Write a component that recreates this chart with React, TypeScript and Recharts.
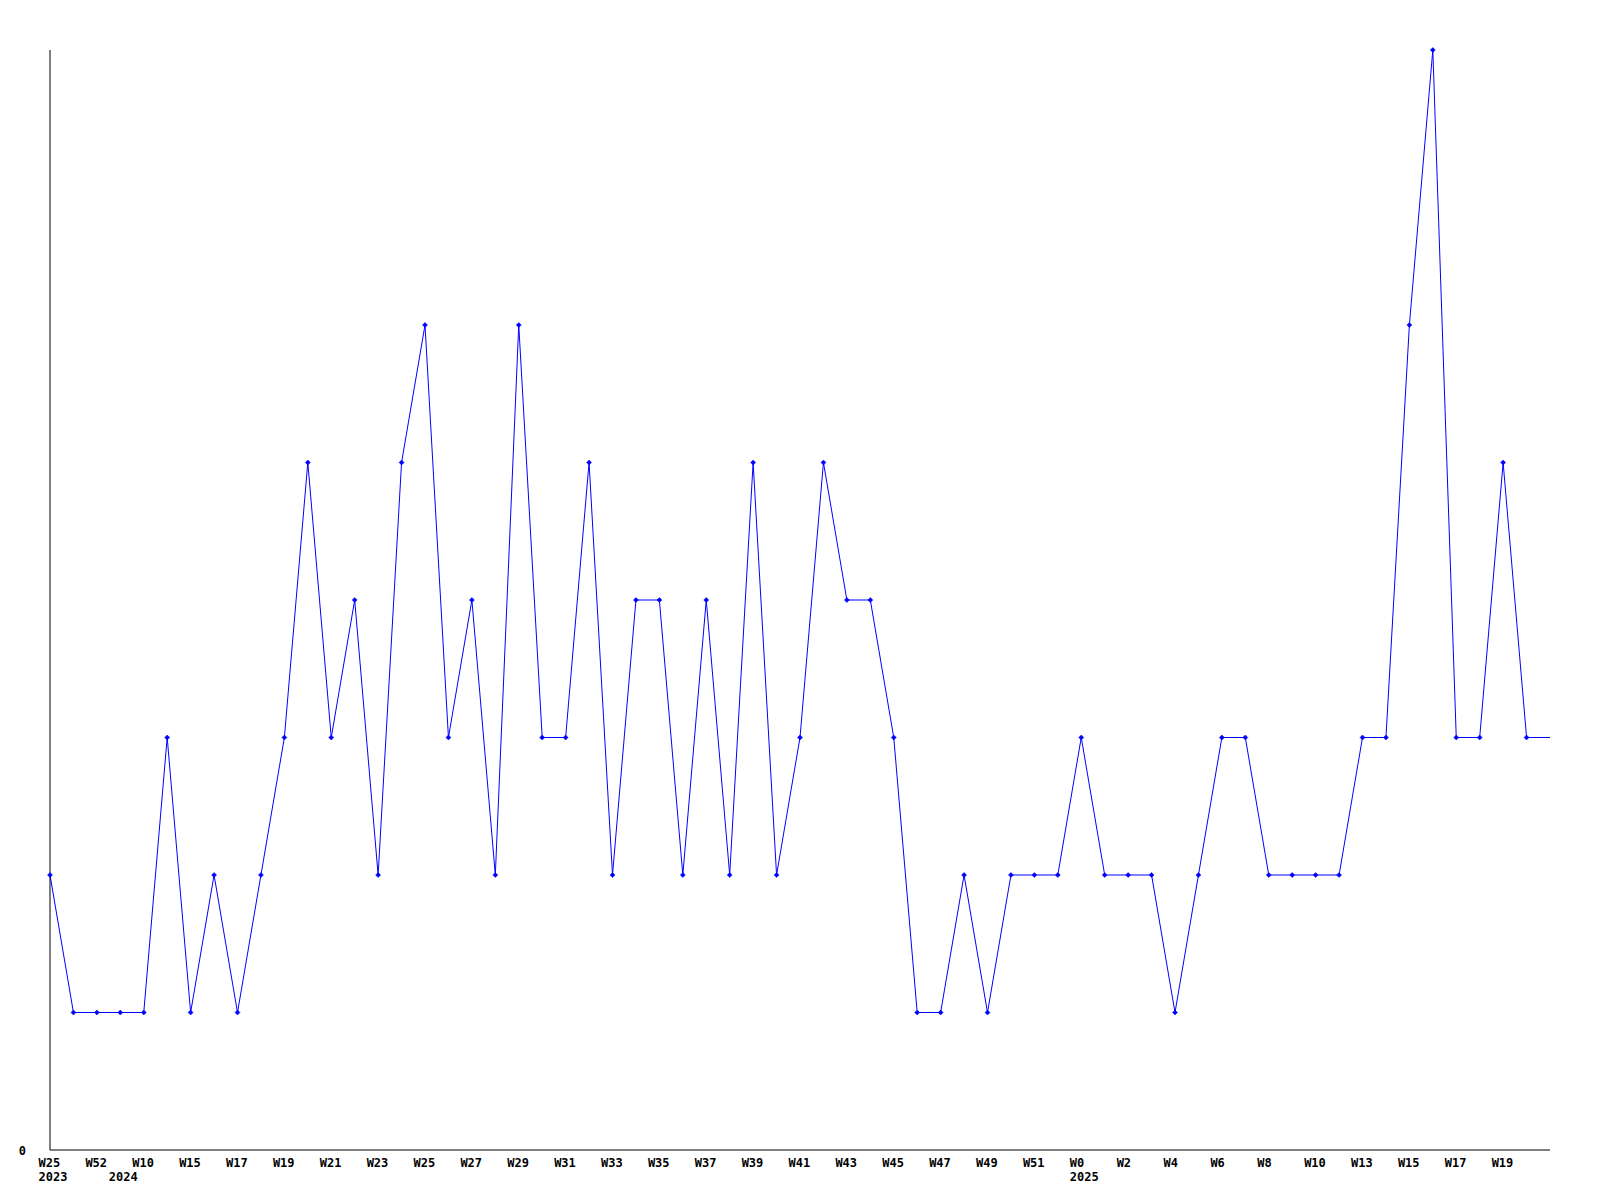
import { CartesianGrid, Line, LineChart, XAxis, YAxis } from 'recharts';

// weekly counts, last entry is the running (partial) week drawn without a marker
const counts = [
  2, 1, 1, 1, 1, 3, 1, 2, 1, 2, 3, 5, 3, 4, 2, 5, 6, 3, 4, 2, 6, 3, 3, 5, 2, 4, 4, 2, 4, 2, 5, 2,
  3, 5, 4, 4, 3, 1, 1, 2, 1, 2, 2, 2, 3, 2, 2, 2, 1, 2, 3, 3, 2, 2, 2, 2, 3, 3, 6, 8, 3, 3, 5, 3, 3
];

// tick labels on every other week
const weekLabels = [
  'W25', 'W52', 'W10', 'W15', 'W17', 'W19', 'W21', 'W23', 'W25', 'W27', 'W29', 'W31', 'W33', 'W35', 'W37', 'W39',
  'W41', 'W43', 'W45', 'W47', 'W49', 'W51', 'W0', 'W2', 'W4', 'W6', 'W8', 'W10', 'W13', 'W15', 'W17', 'W19'
];
const yearLabels: Record<number, string> = { 0: '2023', 3: '2024', 44: '2025' };

const data = counts.map((count, i) => ({
  idx: i,
  week: i % 2 === 0 ? weekLabels[i / 2] ?? '' : '',
  year: yearLabels[i] ?? '',
  count
}));

const font = '"DejaVu Sans Mono", monospace';

// labels start a little left of their tick
function WeekTick({ x, y, payload }: any) {
  const row = data[payload.index];
  if (!row) return null;
  return (
    <g>
      <text x={x - 11.5} y={y + 16.5} textAnchor="start" fontFamily={font} fontWeight="bold" fontSize={12} fill="#000">
        {row.week}
      </text>
      {row.year && (
        <text x={x - 11.5} y={y + 30.5} textAnchor="start" fontFamily={font} fontWeight="bold" fontSize={12} fill="#000">
          {row.year}
        </text>
      )}
    </g>
  );
}

function ZeroTick({ y, payload }: any) {
  return (
    <text x={26} y={y + 5} textAnchor="end" fontFamily={font} fontWeight="bold" fontSize={12} fill="#000">
      {payload.value}
    </text>
  );
}

function Marker({ cx, cy, index }: any) {
  if (index === counts.length - 1) return null;
  return (
    <path
      key={index}
      d={`M${cx - 2.5},${cy} L${cx},${cy - 2.5} L${cx + 2.5},${cy} L${cx},${cy + 2.5} Z`}
      fill="#0000ff"
      stroke="#0000ff"
      strokeWidth={0.5}
    />
  );
}

export default function App() {
  return (
    <div style={{ width: 1600, height: 1200, background: '#fff' }}>
      <style>{'body{margin:0}'}</style>
      <LineChart width={1600} height={1200} data={data} margin={{ top: 50, right: 50, bottom: 0, left: 0 }}>
        <CartesianGrid stroke="none" />
        <XAxis
          dataKey="idx"
          type="category"
          interval={0}
          height={50}
          tickLine={false}
          tickSize={0}
          tickMargin={0}
          axisLine={{ stroke: '#000', strokeWidth: 1 }}
          tick={<WeekTick />}
        />
        <YAxis
          domain={[0, 8]}
          ticks={[0]}
          width={50}
          tickLine={false}
          axisLine={{ stroke: '#000', strokeWidth: 1 }}
          tick={<ZeroTick />}
        />
        <Line
          type="linear"
          dataKey="count"
          stroke="#0000ff"
          strokeWidth={1}
          dot={<Marker />}
          activeDot={false}
          isAnimationActive={false}
        />
      </LineChart>
    </div>
  );
}
